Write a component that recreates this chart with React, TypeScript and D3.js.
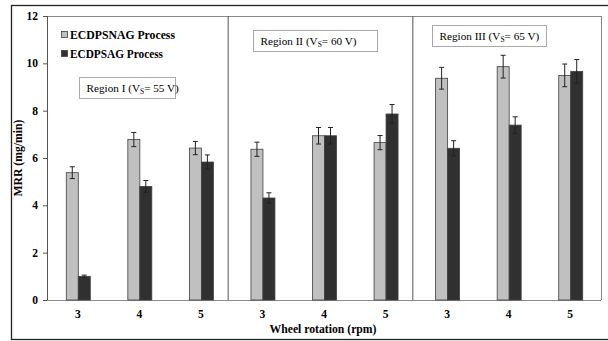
import React from "react"
import * as d3 from "d3"

// data
const rpm = ["3", "4", "5"]
const regions = ["I", "II", "III"]
const voltages = [55, 60, 65]
const seriesNames = ["ECDPSNAG Process", "ECDPSAG Process"]
const snag = [5.38, 6.78, 6.42, 6.37, 6.94, 6.65, 9.37, 9.86, 9.49]
const snagErr = [0.25, 0.3, 0.28, 0.3, 0.35, 0.3, 0.46, 0.48, 0.48]
const sag = [1.0, 4.8, 5.83, 4.31, 6.94, 7.86, 6.41, 7.39, 9.66]
const sagErr = [0.05, 0.25, 0.3, 0.22, 0.35, 0.4, 0.32, 0.35, 0.5]
const yTicks = [0, 2, 4, 6, 8, 10, 12]

const colors = ["#c0c0c0", "#303030"]
const font = "Liberation Serif, DejaVu Serif, serif"

// region label boxes (annotation placement)
const regionBoxes = [
  { x: 79, y: 77, w: 96, h: 21 },
  { x: 253, y: 30, w: 124, h: 21 },
  { x: 432, y: 25, w: 114, h: 21 },
]

export default function App() {
  const width = 608
  const height = 341
  const left = 47
  const right = 601
  const top = 16
  const bottom = 300
  const barW = 12

  const cats = regions.flatMap((r) => rpm.map((p) => `${r}-${p}`))
  const x = d3.scaleBand<string>().domain(cats).range([left, right]).padding(0)
  const y = d3.scaleLinear().domain([0, 12]).range([bottom, top])

  const series = [
    { values: snag, errs: snagErr, offset: -barW },
    { values: sag, errs: sagErr, offset: 0 },
  ]

  const dividers = [3, 6].map((i) => (x(cats[i]) ?? 0) - 4)

  return (
    <svg width={width} height={height}
      style={{ position: "absolute", left: 0, top: 0, background: "#fff", fontFamily: font }}>
      {/* outer frame */}
      <rect x={11.5} y={5.5} width={610} height={334} fill="none" stroke="#222" strokeWidth={1.3} />

      {/* plot frame */}
      <line x1={left} x2={right} y1={top + 0.5} y2={top + 0.5} stroke="#8a8a8a" />
      <line x1={right + 0.5} x2={right + 0.5} y1={top} y2={bottom} stroke="#8a8a8a" />
      <line x1={left - 2} x2={right} y1={bottom + 0.5} y2={bottom + 0.5} stroke="#8a8a8a" />
      <line x1={left + 0.5} x2={left + 0.5} y1={top} y2={bottom} stroke="#555" />

      {/* y ticks */}
      {yTicks.map((t) => (
        <g key={t}>
          <line x1={left - 4} x2={left} y1={y(t) + 0.5} y2={y(t) + 0.5} stroke="#555" />
          <text x={38} y={y(t)} dy="0.35em" textAnchor="end" fontSize={11.5} fontWeight="bold">{t}</text>
        </g>
      ))}

      {/* region dividers */}
      {dividers.map((d, i) => (
        <line key={i} x1={d + 0.5} x2={d + 0.5} y1={top} y2={bottom} stroke="#555" />
      ))}

      {/* bars */}
      {series.map((s, si) =>
        cats.map((c, i) => {
          const cx = (x(c) ?? 0) + x.bandwidth() / 2 + s.offset
          return (
            <rect key={`${si}-${c}`} x={cx + 0.5} y={y(s.values[i])} width={barW}
              height={bottom - y(s.values[i])} fill={colors[si]} stroke="#404040" strokeWidth={0.8} />
          )
        })
      )}

      {/* error bars */}
      {series.map((s, si) =>
        cats.map((c, i) => {
          const cx = (x(c) ?? 0) + x.bandwidth() / 2 + s.offset + barW / 2 + 0.5
          const y1 = y(s.values[i] + s.errs[i])
          const y2 = y(s.values[i] - s.errs[i])
          return (
            <g key={`e${si}-${c}`} stroke="#222" strokeWidth={1}>
              <line x1={cx} x2={cx} y1={y1} y2={y2} />
              <line x1={cx - 2.5} x2={cx + 2.5} y1={y1} y2={y1} />
              <line x1={cx - 2.5} x2={cx + 2.5} y1={y2} y2={y2} />
            </g>
          )
        })
      )}

      {/* x tick labels */}
      {cats.map((c, i) => (
        <text key={c} x={(x(c) ?? 0) + x.bandwidth() / 2} y={318} textAnchor="middle" fontSize={11.5}
          fontWeight="bold">{rpm[i % 3]}</text>
      ))}

      {/* axis titles */}
      <text x={323} y={333} textAnchor="middle" fontSize={11.5} fontWeight="bold"
        textLength={107} lengthAdjust="spacingAndGlyphs">Wheel rotation (rpm)</text>
      <text transform="translate(22,158) rotate(-90)" textAnchor="middle" fontSize={11.7} fontWeight="bold">
        MRR (mg/min)
      </text>

      {/* legend */}
      {seriesNames.map((n, i) => (
        <g key={n}>
          <rect x={61.5} y={31.5 + i * 19} width={6} height={6} fill={colors[i]} stroke="#404040" strokeWidth={0.8} />
          <text x={70} y={39 + i * 19} fontSize={12} fontWeight="bold"
            textLength={i === 0 ? 105 : 93} lengthAdjust="spacingAndGlyphs">{n}</text>
        </g>
      ))}

      {/* region labels */}
      {regions.map((r, i) => {
        const b = regionBoxes[i]
        return (
          <g key={r}>
            <rect x={b.x + 0.5} y={b.y + 0.5} width={b.w} height={b.h} fill="#fff" stroke="#aaa" />
            <text x={b.x + 7.5} y={b.y + 14.5} fontSize={11.2}>
              Region {r} (V<tspan fontSize={7.5} dy={2.5}>S</tspan><tspan dy={-2.5}>= {voltages[i]}  V)</tspan>
            </text>
          </g>
        )
      })}
    </svg>
  )
}
